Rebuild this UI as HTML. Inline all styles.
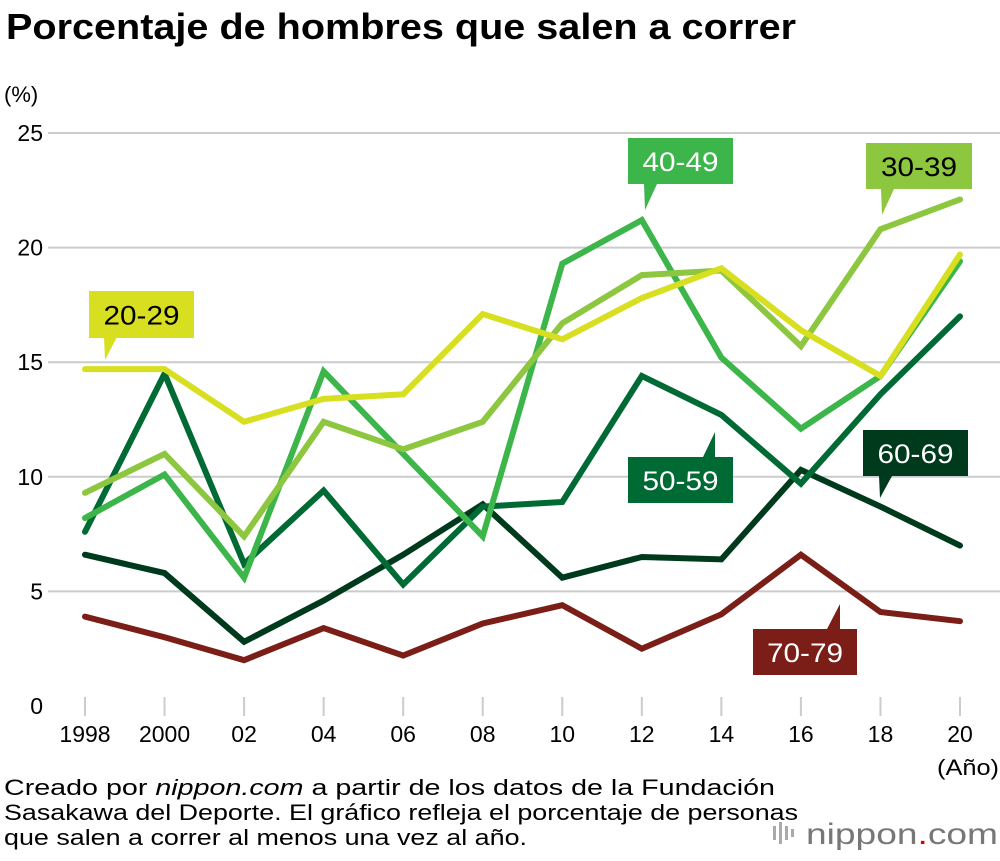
<!DOCTYPE html>
<html><head><meta charset="utf-8">
<style>
body{margin:0;background:#fff;width:1000px;height:856px;overflow:hidden;font-family:"Liberation Sans",Arial,sans-serif}
svg text{font-family:"Liberation Sans",Arial,sans-serif}
</style></head>
<body>
<svg id="chart" width="1000" height="856" viewBox="0 0 1000 856">
<text x="6" y="39" font-size="36" font-weight="bold" fill="#000" textLength="790" lengthAdjust="spacingAndGlyphs">Porcentaje de hombres que salen a correr</text>
<text x="4" y="102" font-size="22" fill="#000">(%)</text>
<g id="grid"></g>
<g id="lines"></g>
<g id="labels"></g>
<text x="937" y="775" font-size="22" fill="#000" textLength="62" lengthAdjust="spacingAndGlyphs">(Año)</text>
<g font-size="22" fill="#000">
<text x="4" y="795" textLength="771" lengthAdjust="spacingAndGlyphs">Creado por <tspan font-style="italic">nippon.com</tspan> a partir de los datos de la Fundación</text>
<text x="4" y="820" textLength="794" lengthAdjust="spacingAndGlyphs">Sasakawa del Deporte. El gráfico refleja el porcentaje de personas</text>
<text x="4" y="845" textLength="523" lengthAdjust="spacingAndGlyphs">que salen a correr al menos una vez al año.</text>
</g>
<g>
<rect x="773" y="826" width="3" height="14" fill="#aaa"/><rect x="779" y="822" width="3" height="22" fill="#aaa"/><rect x="785" y="826" width="3" height="14" fill="#aaa"/><rect x="791" y="829" width="3" height="8" fill="#aaa"/>
<text x="806" y="844" font-size="30" fill="#777" textLength="192" lengthAdjust="spacingAndGlyphs">nippon<tspan fill="#d00">.</tspan>com</text>
</g>
</svg>
<script>
const years=["1998","2000","02","04","06","08","10","12","14","16","18","20"];
const yTicks=[0,5,10,15,20,25];
const s2029=[14.7,14.7,12.4,13.4,13.6,17.1,16.0,17.8,19.1,16.4,14.4,19.7];
const s3039=[9.3,11.0,7.4,12.4,11.2,12.4,16.7,18.8,19.0,15.7,20.8,22.1];
const s4049=[8.2,10.1,5.6,14.6,11.0,7.4,19.3,21.2,15.2,12.1,14.4,19.4];
const s5059=[7.6,14.5,6.2,9.4,5.3,8.7,8.9,14.4,12.7,9.7,13.6,17.0];
const s6069=[6.6,5.8,2.8,4.6,6.6,8.8,5.6,6.5,6.4,10.3,8.7,7.0];
const s7079=[3.9,3.0,2.0,3.4,2.2,3.6,4.4,2.5,4.0,6.6,4.1,3.7];
const NS="http://www.w3.org/2000/svg";
const xs=i=>85+i*(960-85)/11;
const ys=v=>706-v*(706-133)/25;
function mk(t,a,p){const e=document.createElementNS(NS,t);for(const k in a)e.setAttribute(k,a[k]);p.appendChild(e);return e;}
const grid=document.getElementById('grid');
yTicks.forEach(v=>{
 if(v>0){const g=mk('line',{x1:48,x2:1000,y1:ys(v),y2:ys(v),stroke:'#ccc','stroke-width':2},grid);
 
 }
 const t=mk('text',{x:43,y:ys(v)+8,'font-size':23,'text-anchor':'end'},grid);t.textContent=v;
 
 
});
years.forEach((y,i)=>{
 const l=mk('line',{x1:xs(i),x2:xs(i),y1:697,y2:716,stroke:'#ccc','stroke-width':2},grid);
 
 
 const t=mk('text',{x:xs(i),y:742,'font-size':23,'text-anchor':'middle'},grid);t.textContent=y;
 
 
});
const series=[["70-79",s7079,"#7a1e17"],["60-69",s6069,"#003a1d"],["50-59",s5059,"#006a35"],["40-49",s4049,"#3cb54a"],["30-39",s3039,"#8dc63f"],["20-29",s2029,"#d8df20"]];
const lg=document.getElementById('lines');
series.forEach(([n,d,c])=>{
 const p=mk('polyline',{points:d.map((v,i)=>xs(i)+','+ys(v)).join(' '),fill:'none',stroke:c,'stroke-width':6,'stroke-linecap':'round','stroke-linejoin':'miter'},lg);
 
 
});
const callouts=[["20-29","#d8df20","#000",89,291,105,47,[[104,337],[117,337],[105,360]]],
["40-49","#3cb54a","#fff",628,138,105,46,[[644,184],[657,184],[645,210]]],
["30-39","#8dc63f","#000",866,143,106,46,[[881,189],[894,189],[882,215]]],
["50-59","#006a35","#fff",628,457,105,46,[[703,457],[715,457],[715,432]]],
["60-69","#003a1d","#fff",863,430,105,46,[[879,476],[892,476],[880,498]]],
["70-79","#7a1e17","#fff",753,629,104,46,[[827,629],[840,629],[840,604]]]];
const lb=document.getElementById('labels');
callouts.forEach(([n,bg,fg,x,y,w,h,tri])=>{
 const g=mk('g',{},lb);
 
 
 mk('rect',{x:x,y:y,width:w,height:h,fill:bg},g);
 mk('polygon',{points:tri.map(p=>p.join(',')).join(' '),fill:bg},g);
 const t=mk('text',{x:x+w/2,y:y+h/2+10,'font-size':27,'text-anchor':'middle',fill:fg,textLength:76,lengthAdjust:'spacingAndGlyphs'},g);t.textContent=n;
});
</script>
</body></html>
